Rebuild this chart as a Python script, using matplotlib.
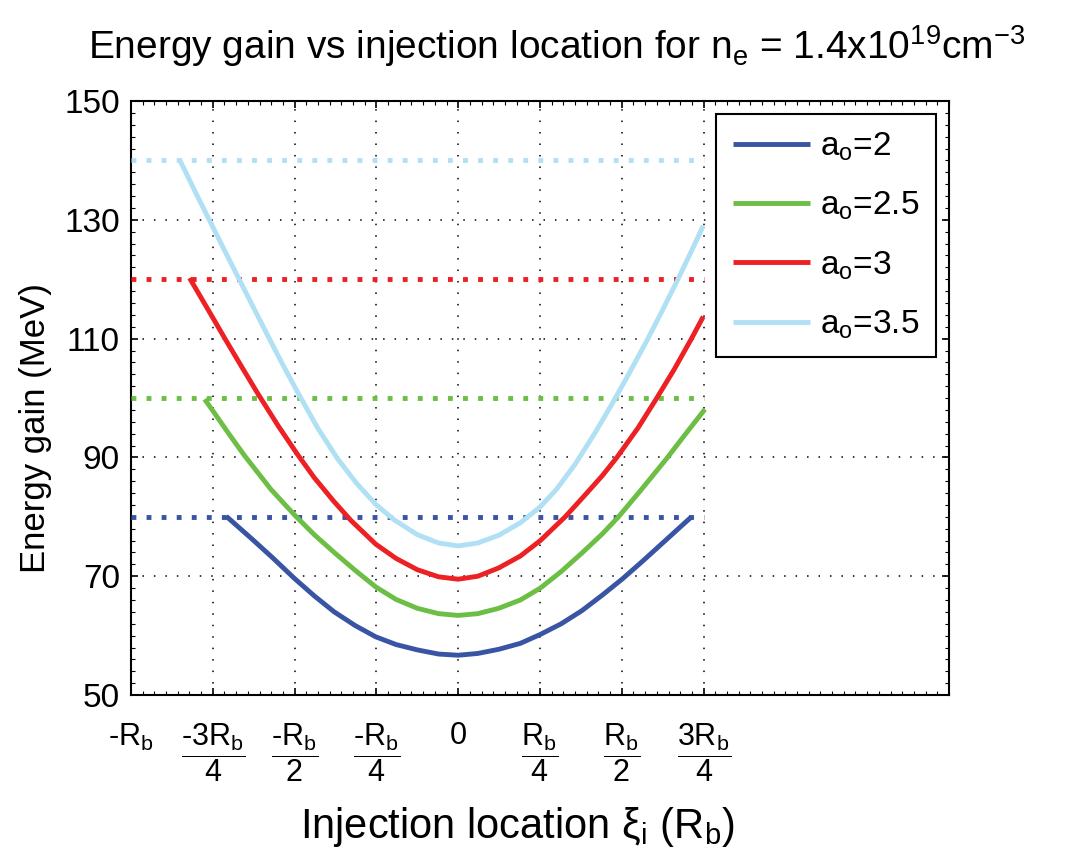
import matplotlib
matplotlib.use('Agg')
from matplotlib import pyplot as plt
from matplotlib.ticker import MultipleLocator

plt.rcParams['font.family'] = ['Liberation Sans', 'DejaVu Sans']
plt.rcParams['mathtext.default'] = 'regular'

# values (x in units of R_b, energy gain in MeV)
x_a2 = [-0.709, -0.633, -0.567, -0.5, -0.44, -0.379, -0.315, -0.252, -0.19, -0.125, -0.06, 0,
        0.06, 0.124, 0.19, 0.251, 0.315, 0.378, 0.44, 0.503, 0.567, 0.633, 0.713]
y_a2 = [80.1, 76.4, 73.1, 69.6, 66.7, 64.0, 61.7, 59.8, 58.5, 57.6, 56.9, 56.7,
        57.0, 57.7, 58.7, 60.2, 62.0, 64.2, 66.8, 69.6, 72.7, 76.0, 80.0]

x_a25 = [-0.775, -0.753, -0.70, -0.653, -0.572, -0.5, -0.44, -0.379, -0.315, -0.252, -0.19, -0.125, -0.06, 0,
         0.06, 0.124, 0.19, 0.251, 0.315, 0.378, 0.44, 0.49, 0.56, 0.637, 0.69, 0.754]
y_a25 = [99.8, 98.1, 93.9, 90.3, 84.6, 80.3, 77.0, 74.0, 71.0, 68.2, 66.1, 64.6, 63.7, 63.4,
         63.7, 64.6, 66.0, 68.0, 70.8, 73.9, 77.1, 80.0, 84.6, 89.8, 93.6, 98.1]

x_a3 = [-0.821, -0.753, -0.714, -0.66, -0.613, -0.55, -0.491, -0.44, -0.38, -0.328, -0.252, -0.19, -0.125, -0.06, 0,
        0.06, 0.124, 0.19, 0.251, 0.327, 0.38, 0.44, 0.485, 0.55, 0.607, 0.66, 0.713, 0.749]
y_a3 = [120.2, 113.8, 110.1, 105.1, 100.8, 95.3, 90.5, 86.6, 82.6, 79.4, 75.4, 73.0, 71.1, 69.9, 69.5,
        70.0, 71.4, 73.4, 76.0, 80.0, 83.2, 86.9, 90.0, 95.0, 100.0, 104.8, 110.0, 113.7]

x_a35 = [-0.852, -0.80, -0.76, -0.72, -0.676, -0.63, -0.582, -0.535, -0.491, -0.43, -0.369, -0.31, -0.252,
         -0.196, -0.125, -0.06, 0, 0.06, 0.124, 0.19, 0.251, 0.30, 0.358, 0.42, 0.47, 0.52, 0.576,
         0.62, 0.668, 0.71, 0.749]
y_a35 = [140.2, 134.3, 129.9, 125.5, 120.7, 115.7, 110.5, 105.5, 101.0, 95.0, 89.8, 85.6, 82.1,
         79.5, 77.0, 75.6, 75.1, 75.6, 76.9, 79.0, 81.7, 84.6, 88.9, 94.3, 99.0, 103.9, 109.6,
         114.3, 119.6, 124.4, 129.0]

labels = ['2', '2.5', '3', '3.5']
limits = [80, 100, 120, 140]
colors = ['#3A54A4', '#6CBE45', '#ED2024', '#B0E0F4']

hy = '\u2010'
xticks = [-1, -0.75, -0.5, -0.25, 0, 0.25, 0.5, 0.75]
xticklabels = ['-R$_b$', r'$\dfrac{' + hy + r'3R_b}{4}$', r'$\dfrac{' + hy + r'R_b}{2}$',
               r'$\dfrac{' + hy + r'R_b}{4}$', '0', r'$\dfrac{R_b}{4}$', r'$\dfrac{R_b}{2}$',
               r'$\dfrac{3R_b}{4}$']

fig = plt.figure(figsize=(10.73, 8.65), dpi=100)
ax = fig.add_axes([0.1221, 0.1965, 0.7623, 0.6867])

curves = [(x_a2, y_a2), (x_a25, y_a25), (x_a3, y_a3), (x_a35, y_a35)]
for lim, c in zip(limits, colors):
    ax.plot([-1, 0.75], [lim, lim], color=c, lw=3.5, linestyle=(0, (1, 2.1)),
            dash_capstyle='butt', zorder=3)
for (xs, ys), lab, c in zip(curves, labels, colors):
    ax.plot(xs, ys, color=c, lw=3.5, label=r'a$_{o}$=' + lab, zorder=4,
            solid_capstyle='butt', solid_joinstyle='round')

ax.set_xlim(-1, 1.5)
ax.set_ylim(50, 150)
ax.set_xticks(xticks)
ax.set_xticklabels(xticklabels, fontsize=22)
ax.set_yticks([50, 70, 90, 110, 130, 150])
ax.yaxis.set_minor_locator(MultipleLocator(2))
ax.xaxis.set_minor_locator(MultipleLocator(0.25 / 7))
ax.tick_params(which='both', direction='in', top=True, right=True)
ax.tick_params(which='major', length=5, width=1.2)
ax.tick_params(which='minor', length=3, width=0.8)
ax.tick_params(axis='x', which='major', pad=19)
ax.tick_params(axis='y', labelsize=24, pad=8)
for s in ax.spines.values():
    s.set_linewidth(1.5)

ax.grid(True, which='major', color='black', linestyle=(0, (1, 6.5)), linewidth=1.1)

ax.set_ylabel('Energy gain (MeV)', fontsize=25)
ax.yaxis.set_label_coords(-0.097, 0.45)
ax.set_xlabel(r'Injection location $\xi_i$ (R$_b$)', fontsize=30)
ax.xaxis.set_label_coords(0.472, -0.185)
ax.set_title(r'Energy gain vs injection location for n$_e$ = 1.4x10$^{19}$cm$^{-3}$',
             fontsize=28, pad=30, x=0.52)

leg = ax.legend(loc='upper right', fontsize=24, handlelength=2.3, handletextpad=0.3,
                borderaxespad=0.4, borderpad=0.5, fancybox=False, framealpha=1,
                edgecolor='black', labelspacing=0.8)
leg.get_frame().set_linewidth(1.5)

plt.savefig('out.png', dpi=100)
